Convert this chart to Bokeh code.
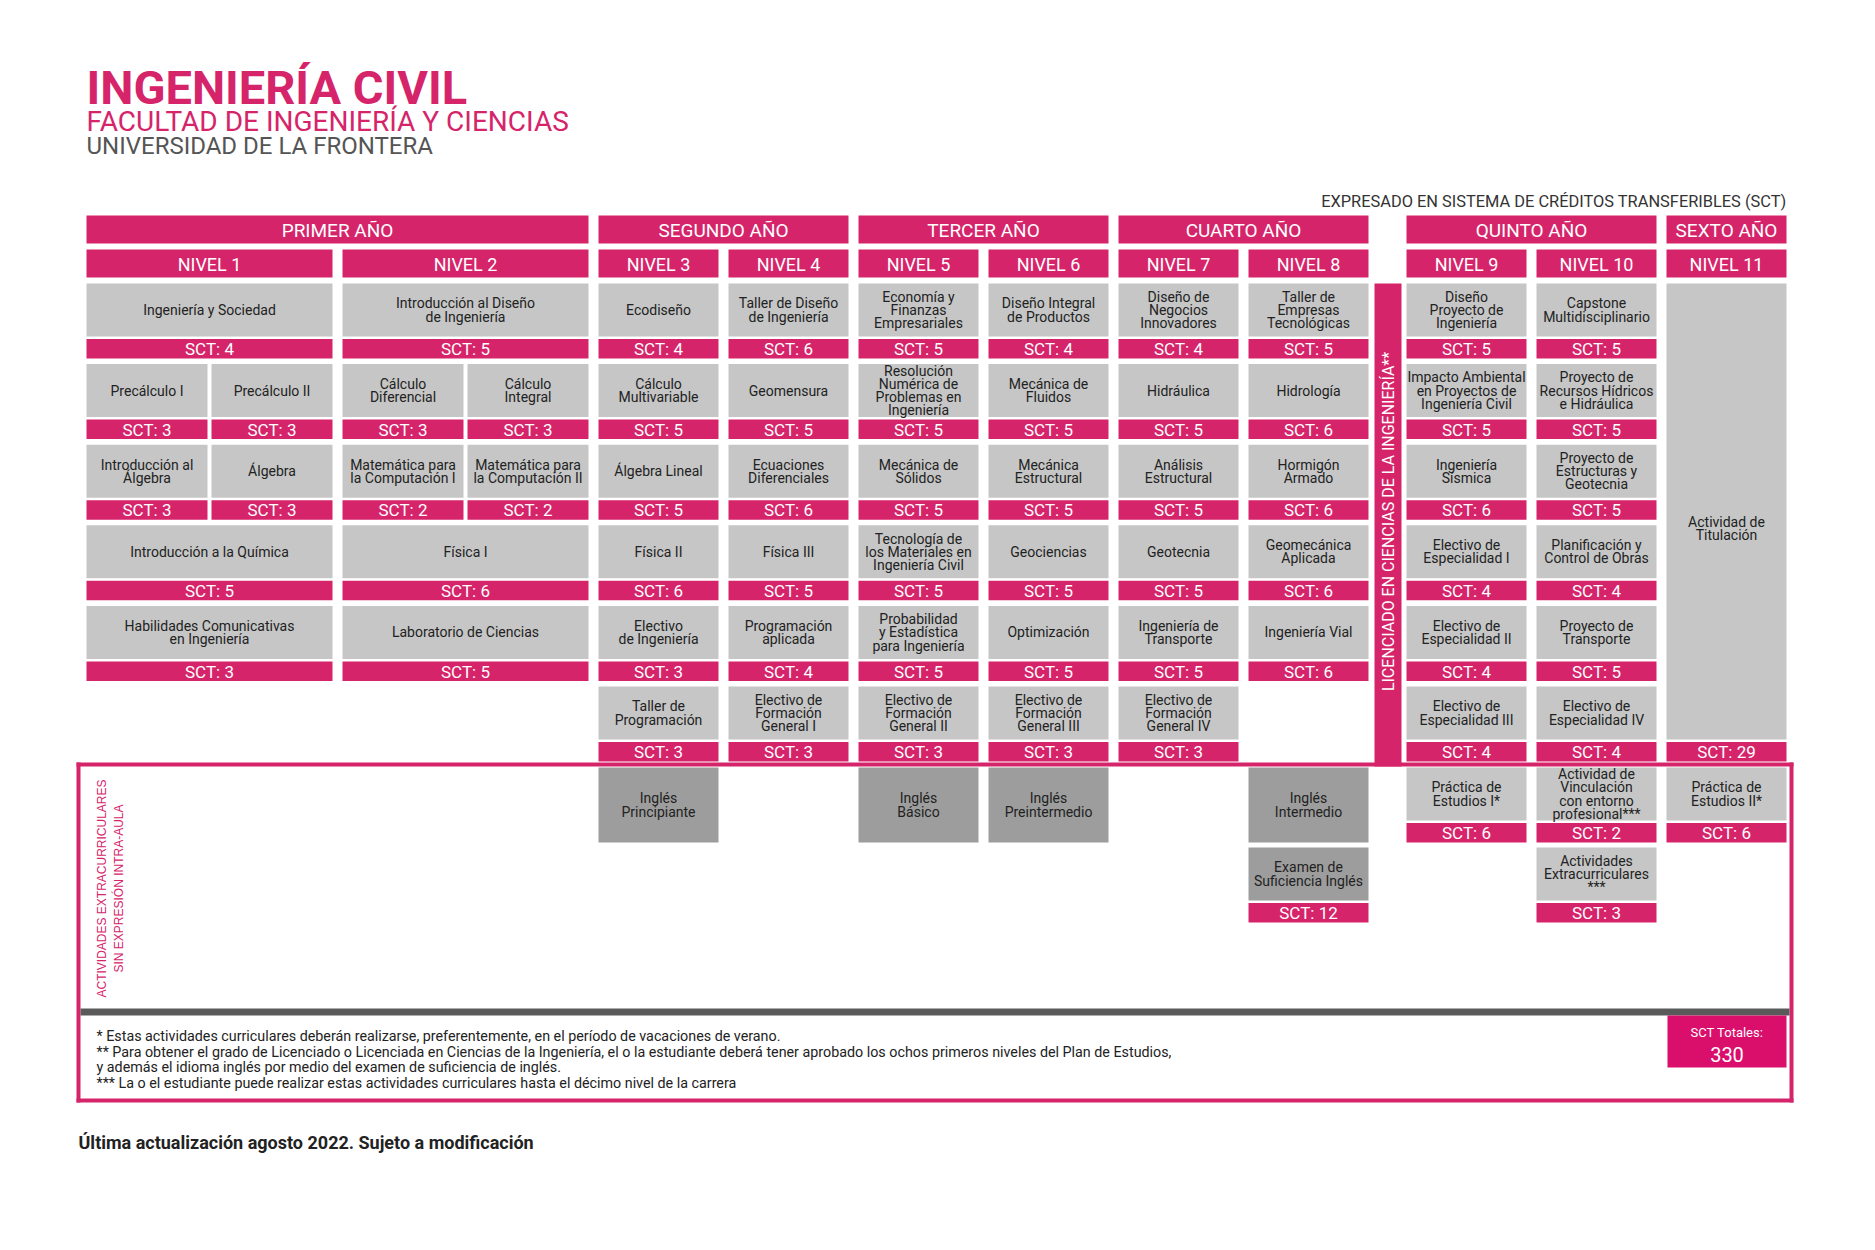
import math
from bokeh.plotting import figure
from bokeh.models import Range1d
from bokeh.embed import file_html
from bokeh.resources import INLINE
from bokeh.core.properties import value

# ---------------- data ----------------
title = "INGENIERÍA CIVIL"
faculty = "FACULTAD DE INGENIERÍA Y CIENCIAS"
university = "UNIVERSIDAD DE LA FRONTERA"
units_note = "EXPRESADO EN SISTEMA DE CRÉDITOS TRANSFERIBLES (SCT)"
licenciado_label = "LICENCIADO EN CIENCIAS DE LA INGENIERÍA**"
extra_label = ["ACTIVIDADES EXTRACURRICULARES", "SIN EXPRESIÓN INTRA-AULA"]

years = ["PRIMER AÑO", "SEGUNDO AÑO", "TERCER AÑO", "CUARTO AÑO", "QUINTO AÑO", "SEXTO AÑO"]
year_first_level = [0, 2, 4, 6, 8, 10]
year_last_level = [1, 3, 5, 7, 9, 10]
levels = ["NIVEL 1", "NIVEL 2", "NIVEL 3", "NIVEL 4", "NIVEL 5", "NIVEL 6",
          "NIVEL 7", "NIVEL 8", "NIVEL 9", "NIVEL 10", "NIVEL 11"]

# part: 0 = full width, 1 = left half, 2 = right half
course_names = [
    "Ingeniería y Sociedad", "Precálculo I", "Precálculo II", "Introducción al\nÁlgebra", "Álgebra",
    "Introducción a la Química", "Habilidades Comunicativas\nen Ingeniería",
    "Introducción al Diseño\nde Ingeniería", "Cálculo\nDiferencial", "Cálculo\nIntegral",
    "Matemática para\nla Computación I", "Matemática para\nla Computación II", "Física I",
    "Laboratorio de Ciencias",
    "Ecodiseño", "Cálculo\nMultivariable", "Álgebra Lineal", "Física II", "Electivo\nde Ingeniería",
    "Taller de\nProgramación",
    "Taller de Diseño\nde Ingeniería", "Geomensura", "Ecuaciones\nDiferenciales", "Física III",
    "Programación\naplicada", "Electivo de\nFormación\nGeneral I",
    "Economía y\nFinanzas\nEmpresariales", "Resolución\nNumérica de\nProblemas en\nIngeniería",
    "Mecánica de\nSólidos", "Tecnología de\nlos Materiales en\nIngeniería Civil",
    "Probabilidad\ny Estadística\npara Ingeniería", "Electivo de\nFormación\nGeneral II",
    "Diseño Integral\nde Productos", "Mecánica de\nFluidos", "Mecánica\nEstructural", "Geociencias",
    "Optimización", "Electivo de\nFormación\nGeneral III",
    "Diseño de\nNegocios\nInnovadores", "Hidráulica", "Análisis\nEstructural", "Geotecnia",
    "Ingeniería de\nTransporte", "Electivo de\nFormación\nGeneral IV",
    "Taller de\nEmpresas\nTecnológicas", "Hidrología", "Hormigón\nArmado", "Geomecánica\nAplicada",
    "Ingeniería Vial",
    "Diseño\nProyecto de\nIngeniería", "Impacto Ambiental\nen Proyectos de\nIngeniería Civil",
    "Ingeniería\nSísmica", "Electivo de\nEspecialidad I", "Electivo de\nEspecialidad II",
    "Electivo de\nEspecialidad III",
    "Capstone\nMultidisciplinario", "Proyecto de\nRecursos Hídricos\ne Hidráulica",
    "Proyecto de\nEstructuras y\nGeotecnia", "Planificación y\nControl de Obras",
    "Proyecto de\nTransporte", "Electivo de\nEspecialidad IV",
    "Actividad de\nTitulación",
]
course_sct = [4, 3, 3, 3, 3, 5, 3,
              5, 3, 3, 2, 2, 6, 5,
              4, 5, 5, 6, 3, 3,
              6, 5, 6, 5, 4, 3,
              5, 5, 5, 5, 5, 3,
              4, 5, 5, 5, 5, 3,
              4, 5, 5, 5, 5, 3,
              5, 6, 6, 6, 6,
              5, 5, 6, 4, 4, 4,
              5, 5, 5, 4, 5, 4,
              29]
course_level = [0] * 7 + [1] * 7 + [2] * 6 + [3] * 6 + [4] * 6 + [5] * 6 + [6] * 6 + [7] * 5 + \
               [8] * 6 + [9] * 6 + [10]
course_row = [0, 1, 1, 2, 2, 3, 4,
              0, 1, 1, 2, 2, 3, 4,
              0, 1, 2, 3, 4, 5,
              0, 1, 2, 3, 4, 5,
              0, 1, 2, 3, 4, 5,
              0, 1, 2, 3, 4, 5,
              0, 1, 2, 3, 4, 5,
              0, 1, 2, 3, 4,
              0, 1, 2, 3, 4, 5,
              0, 1, 2, 3, 4, 5,
              0]
course_part = [0, 1, 2, 1, 2, 0, 0,
               0, 1, 2, 1, 2, 0, 0] + [0] * 48
course_span = [1] * 61 + [6]

# extracurricular section (sct None = no credits shown)
extra_names = ["Inglés\nPrincipiante", "Inglés\nBásico", "Inglés\nPreintermedio", "Inglés\nIntermedio",
               "Examen de\nSuficiencia Inglés", "Práctica de\nEstudios I*",
               "Actividad de\nVinculación\ncon entorno\nprofesional***",
               "Actividades\nExtracurriculares\n***", "Práctica de\nEstudios II*"]
extra_sct = [None, None, None, None, 12, 6, 2, 3, 6]
extra_level = [2, 4, 5, 7, 7, 8, 9, 9, 10]
extra_row = [0, 0, 0, 0, 1, 0, 0, 1, 0]
extra_dark = [True, True, True, True, True, False, False, False, False]

total_label = "SCT Totales:"
total_sct = 330

footnotes = [
    "* Estas actividades curriculares deberán realizarse, preferentemente, en el período de vacaciones de verano.",
    "** Para obtener el grado de Licenciado o Licenciada en Ciencias de la Ingeniería, el o la estudiante deberá tener aprobado los ochos primeros niveles del Plan de Estudios,",
    "y además el idioma inglés por medio del examen de suficiencia de inglés.",
    "*** La o el estudiante puede realizar estas actividades curriculares hasta el décimo nivel de la carrera",
]
update_note = "Última actualización agosto 2022. Sujeto a modificación"

# ---------------- style / layout ----------------
PINK = "#D6246B"
PINK2 = "#DA0E6B"
GRAY = "#C6C6C6"
DARK = "#9D9D9D"
TXT = "#222222"
FONT = value("Roboto")
LH = 0.82

LEVEL_LEFT = [86, 342, 598, 728, 858, 988, 1118, 1248, 1406, 1536, 1666]
LEVEL_W = [246, 246] + [120] * 9
HALF_GAP = 4
ROW_TOP, ROW_PITCH, BOX_H, SCT_GAP, SCT_H = 283, 80.6, 53, 2.5, 19.5
EX_TOP, EX_PITCH = 767, 80

W, H = 1859, 1234
p = figure(width=W, height=H, x_range=Range1d(0, W), y_range=Range1d(H, 0),
           output_backend="svg", toolbar_location=None, x_axis_location=None, y_axis_location=None,
           min_border=0, background_fill_color="white", border_fill_color="white")
p.outline_line_color = None
p.grid.visible = False

def box(x0, x1, y0, y1, color):
    p.quad(left=x0, right=x1, top=y0, bottom=y1, fill_color=color, line_color=None)

def txt(x, y, s, size, color=TXT, align="center", baseline="middle", style="normal", angle=0,
        font=FONT, lh=LH):
    p.text(x=[x], y=[y], text=[s], text_font=font, text_font_size=size, text_color=color,
           text_align=align, text_baseline=baseline, text_font_style=style, angle=angle,
           text_line_height=lh)

# titles
txt(86, 86.5, title, "47px", color=PINK, align="left", style="bold")
txt(86, 120.5, faculty, "28px", color=PINK, align="left")
txt(86, 145.5, university, "24px", color="#555555", align="left")
txt(1786, 201, units_note, "16.4px", color="#333333", align="right")

# year headers
for i, y in enumerate(years):
    a, b = year_first_level[i], year_last_level[i]
    x0, x1 = LEVEL_LEFT[a], LEVEL_LEFT[b] + LEVEL_W[b]
    box(x0, x1, 215, 243, PINK)
    txt((x0 + x1) / 2, 229.5, y, "19px", color="white")
for i, lv in enumerate(levels):
    x0, x1 = LEVEL_LEFT[i], LEVEL_LEFT[i] + LEVEL_W[i]
    box(x0, x1, 249, 277, PINK)
    txt((x0 + x1) / 2, 263.5, lv, "18px", color="white")

# courses
for i, name in enumerate(course_names):
    lv, part = course_level[i], course_part[i]
    L, Wd = LEVEL_LEFT[lv], LEVEL_W[lv]
    if part == 0:
        x0, x1 = L, L + Wd
    elif part == 1:
        x0, x1 = L, L + (Wd - HALF_GAP) / 2
    else:
        x0, x1 = L + (Wd + HALF_GAP) / 2, L + Wd
    top = ROW_TOP + course_row[i] * ROW_PITCH
    bot = ROW_TOP + (course_row[i] + course_span[i] - 1) * ROW_PITCH + BOX_H
    box(x0, x1, top, bot, GRAY)
    s0 = bot + SCT_GAP
    box(x0, x1, s0, s0 + SCT_H, PINK)
    cy = (top + bot) / 2 if course_span[i] == 1 else (top + s0 + SCT_H) / 2 + 6
    txt((x0 + x1) / 2, cy, name, "14px")
    txt((x0 + x1) / 2, s0 + SCT_H / 2 + 0.5, f"SCT: {course_sct[i]}", "17px", color="white")

# licenciado vertical bar
box(1374, 1401, 283, 766, PINK)
txt(1388, 521, licenciado_label, "16px", color="white", angle=math.pi / 2)

# frame
box(76, 1793, 762, 766, PINK)
box(76, 80, 762, 1102, PINK)
box(1789, 1793, 762, 1102, PINK)
box(76, 1793, 1098, 1102, PINK)
box(80, 1789, 1008, 1015, "#5A5A5A")

txt(101, 888, extra_label[0], "12px", color=PINK, angle=math.pi / 2, font=value("Liberation Sans"))
txt(118, 888, extra_label[1], "12px", color=PINK, angle=math.pi / 2, font=value("Liberation Sans"))

# extracurricular boxes
for i, name in enumerate(extra_names):
    lv = extra_level[i]
    x0, x1 = LEVEL_LEFT[lv], LEVEL_LEFT[lv] + LEVEL_W[lv]
    top = EX_TOP + extra_row[i] * EX_PITCH
    color = DARK if extra_dark[i] else GRAY
    if extra_sct[i] is None:
        bot = top + BOX_H + SCT_GAP + SCT_H
        box(x0, x1, top, bot, color)
        txt((x0 + x1) / 2, (top + bot) / 2, name, "14px")
    else:
        bot = top + BOX_H
        box(x0, x1, top, bot, color)
        s0 = bot + SCT_GAP
        box(x0, x1, s0, s0 + SCT_H, PINK)
        txt((x0 + x1) / 2, (top + bot) / 2, name, "14px")
        txt((x0 + x1) / 2, s0 + SCT_H / 2 + 0.5, f"SCT: {extra_sct[i]}", "17px", color="white")

# totals
box(1667, 1786, 1015, 1067, PINK2)
txt(1726.5, 1032, total_label, "13px", color="white")
txt(1726.5, 1054, str(total_sct), "20px", color="white")

# footnotes
for k, line in enumerate(footnotes):
    txt(96, 1035.5 + k * 15.5, line, "14.3px", align="left")

txt(78, 1142, update_note, "18px", style="bold", align="left")

open("out.html", "w").write(file_html(p, INLINE))
